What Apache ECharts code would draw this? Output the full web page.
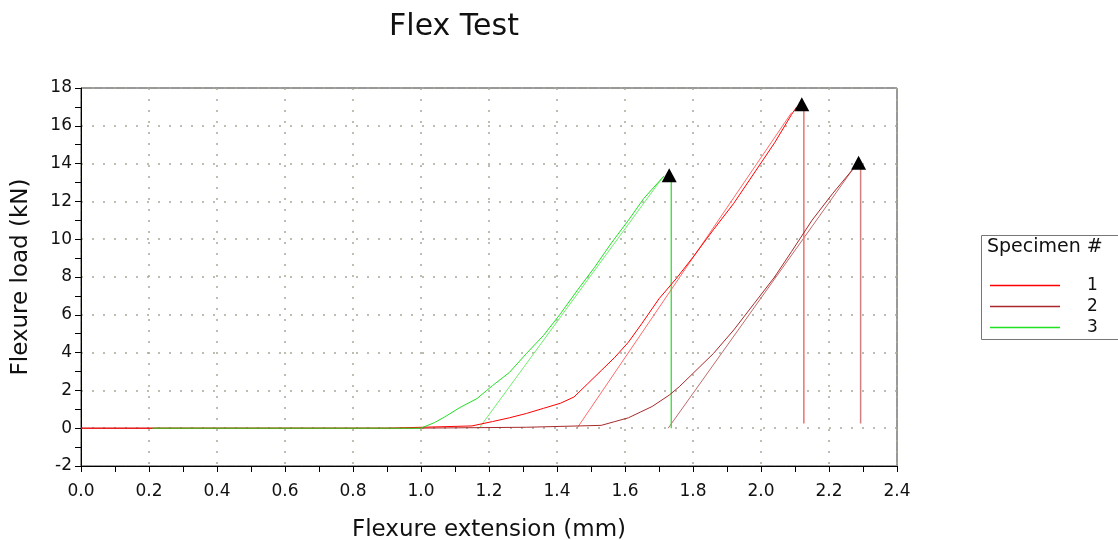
<!DOCTYPE html>
<html>
<head>
<meta charset="utf-8">
<title>Flex Test</title>
<script src="https://cdn.jsdelivr.net/npm/echarts@6/dist/echarts.min.js"></script>
<style>
html, body { margin: 0; padding: 0; background: #fff; }
#chart { width: 1118px; height: 540px; }
</style>
</head>
<body>
<div id="chart"></div>
<script>
// specimen curves (extension mm, load kN)
const spec1X = [0, 0.9, 0.903, 1.15, 1.153, 1.21, 1.26, 1.31, 1.36, 1.41, 1.45, 1.49, 1.53, 1.57, 1.61, 1.65, 1.70, 1.75, 1.80, 1.86, 1.92, 1.98, 2.04, 2.09, 2.105];
const spec1Y = [0, 0, 0.1, 0.12, 0.2, 0.35, 0.55, 0.78, 1.05, 1.32, 1.65, 2.35, 3.05, 3.75, 4.55, 5.55, 6.85, 7.9, 9.05, 10.5, 11.9, 13.5, 15.1, 16.6, 17.0];
const spec2X = [0, 0.97, 0.972, 1.31, 1.312, 1.53, 1.57, 1.61, 1.645, 1.68, 1.73, 1.76, 1.80, 1.86, 1.92, 1.98, 2.04, 2.09, 2.15, 2.21, 2.27, 2.28];
const spec2Y = [0, 0, 0.03, 0.05, 0.1, 0.15, 0.35, 0.55, 0.85, 1.15, 1.75, 2.2, 2.9, 3.95, 5.2, 6.6, 8.0, 9.35, 11.0, 12.4, 13.7, 13.9];
const spec3X = [0.21, 1.0, 1.006, 1.04, 1.07, 1.115, 1.165, 1.21, 1.26, 1.31, 1.36, 1.41, 1.46, 1.51, 1.56, 1.61, 1.655, 1.715];
const spec3Y = [0, 0, 0.05, 0.3, 0.6, 1.1, 1.57, 2.25, 2.95, 3.95, 4.9, 6.05, 7.3, 8.5, 9.8, 11.0, 12.15, 13.35];

// modulus fit lines
const fit1X = [1.459, 2.09];
const fit1Y = [0, 16.7];
const fit2X = [1.727, 2.27];
const fit2Y = [0, 13.7];
const fit3X = [1.171, 1.712];
const fit3Y = [0, 13.3];

// break drops
const drop1X = [2.126, 2.126];
const drop1Y = [16.9, 0.25];
const drop2X = [2.293, 2.293];
const drop2Y = [13.8, 0.25];
const drop3X = [1.736, 1.736];
const drop3Y = [13.1, 0];

// peak markers
const peakX = [2.12, 2.287, 1.73];
const peakY = [17.14, 14.04, 13.39];

const specNames = ['1', '2', '3'];
const specColors = ['#ff0000', '#a82a2a', '#22e022'];
const xTicks = ['0.0', '0.2', '0.4', '0.6', '0.8', '1.0', '1.2', '1.4', '1.6', '1.8', '2.0', '2.2', '2.4'];

const FONT = 'DejaVu Sans';

function pairs(xs, ys) {
    return xs.map((x, i) => [x, ys[i]]);
}

function lineSeries(name, xs, ys, color, width, z) {
    return {
        name: name,
        type: 'line',
        data: pairs(xs, ys),
        showSymbol: false,
        symbol: 'none',
        animation: false,
        z: z,
        color: color,
        lineStyle: { color: color, width: width },
        itemStyle: { color: color },
        emphasis: { disabled: true }
    };
}

function buildOption() {
    const series = [
        lineSeries('fit2', fit2X, fit2Y, '#c06a6a', 1, 2),
        lineSeries('fit1', fit1X, fit1Y, '#ff6a6a', 1, 2),
        lineSeries('fit3', fit3X, fit3Y, '#70ee70', 1, 2),
        lineSeries('drop2', drop2X, drop2Y, '#d08080', 1.5, 2),
        lineSeries('drop1', drop1X, drop1Y, '#f07070', 1.5, 2),
        lineSeries('drop3', drop3X, drop3Y, '#22dd22', 1.2, 2),
        lineSeries(specNames[1], spec2X, spec2Y, specColors[1], 1, 3),
        lineSeries(specNames[0], spec1X, spec1Y, specColors[0], 1, 3),
        lineSeries(specNames[2], spec3X, spec3Y, specColors[2], 1, 4),
        {
            name: 'peak',
            type: 'scatter',
            data: pairs(peakX, peakY),
            symbol: 'triangle',
            symbolSize: [15, 14],
            itemStyle: { color: '#000', opacity: 1 },
            emphasis: { disabled: true },
            animation: false,
            z: 5
        }
    ];

    return {
        backgroundColor: '#fff',
        textStyle: { fontFamily: FONT },
        title: {
            text: 'Flex Test',
            left: 449,
            top: 7,
            textAlign: 'center',
            textStyle: { fontFamily: FONT, fontSize: 30, fontWeight: 'normal', color: '#111' }
        },
        legend: {
            data: specNames.map((n, i) => ({
                name: n,
                itemStyle: { color: specColors[i] },
                lineStyle: { color: specColors[i] }
            })),
            orient: 'vertical',
            left: 985,
            top: 272,
            itemWidth: 70,
            itemHeight: 1.5,
            itemGap: 4,
            icon: 'rect',
            selectedMode: false,
            textStyle: { fontFamily: FONT, fontSize: 17, color: '#111', padding: [0, 0, 0, 22] }
        },
        graphic: [
            {
                type: 'rect',
                shape: { x: 981.5, y: 235.5, width: 150, height: 104 },
                style: { fill: '#fff', stroke: '#777', lineWidth: 1 },
                z: -1
            },
            {
                type: 'text',
                left: 987,
                top: 238,
                style: { text: 'Specimen #', fontFamily: FONT, fontSize: 19, fill: '#111' }
            }
        ],
        grid: {
            left: 81,
            right: 221,
            top: 88,
            bottom: 74,
            outerBoundsMode: 'none',
            containLabel: false,
            show: true,
            borderColor: '#333',
            borderWidth: 1
        },
        xAxis: {
            type: 'value',
            min: 0,
            max: 2.4,
            interval: 0.2,
            name: 'Flexure extension (mm)',
            nameLocation: 'middle',
            nameGap: 53,
            nameTextStyle: { fontFamily: FONT, fontSize: 23, color: '#111' },
            axisLine: { show: true, onZero: false, lineStyle: { color: '#000', width: 1 } },
            axisTick: { show: true, length: 6, lineStyle: { color: '#000' } },
            minorTick: { show: true, splitNumber: 2, length: 6, lineStyle: { color: '#000' } },
            axisLabel: {
                fontFamily: FONT, fontSize: 17, color: '#111', margin: 17,
                formatter: (v) => xTicks[Math.round(v / 0.2)]
            },
            splitLine: { show: true, lineStyle: { color: '#a8a898', width: 1.5, type: [2, 9] } }
        },
        yAxis: {
            type: 'value',
            min: -2,
            max: 18,
            interval: 2,
            name: 'Flexure load (kN)',
            nameLocation: 'middle',
            nameGap: 48,
            nameTextStyle: { fontFamily: FONT, fontSize: 23, color: '#111' },
            axisLine: { show: true, onZero: false, lineStyle: { color: '#000', width: 1 } },
            axisTick: { show: true, length: 6, lineStyle: { color: '#000' } },
            minorTick: { show: true, splitNumber: 2, length: 6, lineStyle: { color: '#000' } },
            axisLabel: { fontFamily: FONT, fontSize: 17, color: '#111', margin: 9 },
            splitLine: { show: true, lineStyle: { color: '#a8a898', width: 1.5, type: [2, 9] } }
        },
        series: series
    };
}

const chart = echarts.init(document.getElementById('chart'), null, { renderer: 'canvas' });
chart.setOption(buildOption());
</script>
</body>
</html>
